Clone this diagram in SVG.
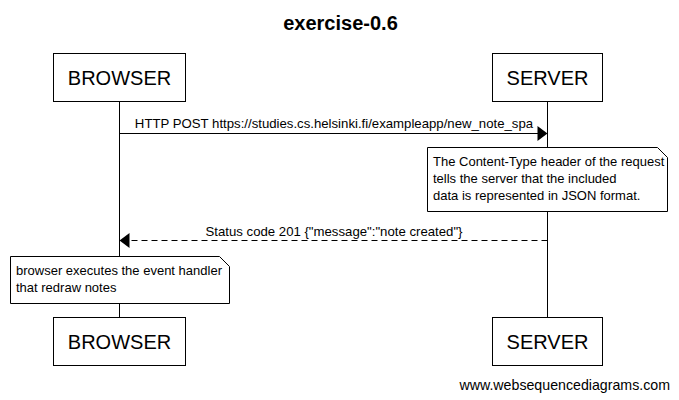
<svg xmlns="http://www.w3.org/2000/svg" width="679" height="400" viewBox="0 0 679 400">
<style>
text{font-family:"Liberation Sans",Arial,sans-serif;fill:#000}
.box{fill:#fff;stroke:#000;stroke-width:1}
.lbl{font-size:20px;text-anchor:middle}
.msg{font-size:13.2px;text-anchor:middle}
.note{font-size:13px}
.line{stroke:#000;stroke-width:1;fill:none}
.dash{stroke-dasharray:6,4}
</style>
<rect width="679" height="400" fill="#fff"/>
<text x="340.5" y="30" font-size="20" font-weight="bold" text-anchor="middle">exercise-0.6</text>
<g id="lifelines">
<line class="line" x1="119.5" y1="102" x2="119.5" y2="317"/>
<line class="line" x1="547.5" y1="102" x2="547.5" y2="317"/>
</g>
<g id="browser-top"><rect class="box" x="53.5" y="53.5" width="132" height="48"/><text class="lbl" x="119.5" y="84.5">BROWSER</text></g>
<g id="server-top"><rect class="box" x="492.5" y="53.5" width="110" height="48"/><text class="lbl" x="547.5" y="84.5">SERVER</text></g>
<g id="browser-bottom"><rect class="box" x="53.5" y="317.5" width="132" height="48"/><text class="lbl" x="119.5" y="348.5">BROWSER</text></g>
<g id="server-bottom"><rect class="box" x="492.5" y="317.5" width="110" height="48"/><text class="lbl" x="547.5" y="348.5">SERVER</text></g>
<g id="connectors">
<line class="line" x1="119.5" y1="133.5" x2="538" y2="133.5"/>
<polygon points="547.5,133.5 537.5,126 537.5,141" fill="#000"/>
<text class="msg" x="334" y="128">HTTP POST https://studies.cs.helsinki.fi/exampleapp/new_note_spa</text>
<line class="line dash" x1="547.5" y1="240.5" x2="129" y2="240.5"/>
<polygon points="119.5,240.5 129.5,233 129.5,248" fill="#000"/>
<text class="msg" x="334" y="236">Status code 201 {"message":"note created"}</text>
</g>
<g id="note-server">
<path class="box" d="M427.5,147.5 H657.5 L667.5,157.5 V211.5 H427.5 Z"/>
<text class="note" x="433" y="166">The Content-Type header of the request</text>
<text class="note" x="433" y="183">tells the server that the included</text>
<text class="note" x="433" y="200">data is represented in JSON format.</text>
</g>
<g id="note-browser">
<path class="box" d="M10.5,256.5 H219.5 L229.5,266.5 V303.5 H10.5 Z"/>
<text class="note" x="16" y="275">browser executes the event handler</text>
<text class="note" x="16" y="292">that redraw notes</text>
</g>
<text x="670" y="390" font-size="14.2" text-anchor="end">www.websequencediagrams.com</text>
</svg>
